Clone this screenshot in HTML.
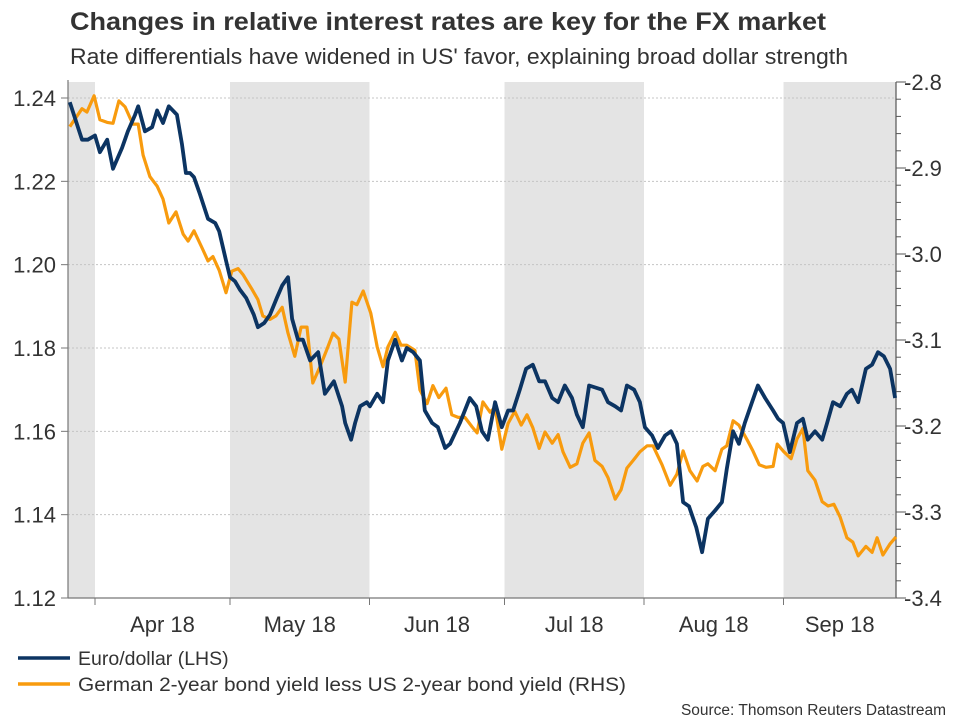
<!DOCTYPE html>
<html><head><meta charset="utf-8"><style>
body{margin:0;background:#fff;font-family:"Liberation Sans",sans-serif;}
svg text{font-family:"Liberation Sans",sans-serif;}
</style></head><body>
<svg id="chart" width="960" height="720" viewBox="0 0 960 720" xmlns="http://www.w3.org/2000/svg">
<text x="70" y="30" font-size="25" font-weight="bold" fill="#333" textLength="756" lengthAdjust="spacingAndGlyphs">Changes in relative interest rates are key for the FX market</text>
<text x="70" y="64" font-size="22" fill="#333" textLength="778" lengthAdjust="spacingAndGlyphs">Rate differentials have widened in US' favor, explaining broad dollar strength</text>
<g id="bands"></g><g id="grid"></g><g id="axes"></g><g id="series"></g>
<g>
<line x1="18" y1="658" x2="70" y2="658" stroke="#0c3462" stroke-width="3.5"/>
<text x="78" y="665" font-size="19.5" fill="#333">Euro/dollar (LHS)</text>
<line x1="18" y1="684" x2="70" y2="684" stroke="#f89b0e" stroke-width="3.5"/>
<text x="78" y="691" font-size="19.5" fill="#333" textLength="548" lengthAdjust="spacingAndGlyphs">German 2-year bond yield less US 2-year bond yield (RHS)</text>
</g>
<text x="946" y="715" font-size="15.5" fill="#333" text-anchor="end">Source: Thomson Reuters Datastream</text>
</svg>
<script>
const monthLabels=["Apr 18","May 18","Jun 18","Jul 18","Aug 18","Sep 18"];
const monthStarts=[6,36,67,97,128,159];
const monthEnds=[36,67,97,128,159,184];
const leftTicks=[1.12,1.14,1.16,1.18,1.20,1.22,1.24];
const rightTicks=[-2.8,-2.9,-3.0,-3.1,-3.2,-3.3,-3.4];
const eurDays=[0.4,3.1,4.4,6,7.1,8.7,10,12,13.3,14.9,15.6,17.1,18.7,19.8,21.1,22.4,24.2,25.3,26.2,27.1,28,29.3,31.1,32.7,33.6,35.1,36,37.1,38.2,39.6,41.3,42.2,43.6,44.9,46.4,47.6,48.9,49.8,51.1,52.2,53.8,55.6,57.1,59.1,60.9,61.6,62.9,63.8,64.9,66.4,67.1,68.7,70,71.1,72.7,74.2,75.3,76.7,78.2,79.3,80.9,82.2,83.8,84.9,87.1,89.3,90.7,92,93.3,94.9,96.4,97.8,98.9,100.4,101.8,103.3,104.7,106,107.6,108.9,110.4,112,113.1,114.4,115.8,118.7,120,121.6,122.9,124.2,125.8,127.1,128.2,129.8,131.1,132.7,134,135.3,136.7,138,139.6,140.9,142.2,143.8,145.3,146.4,147.8,149.1,150.4,152,153.3,154.9,156.7,157.8,158.9,160.4,162,163.3,164.4,166,167.6,168.7,170,171.6,173.1,174.2,175.6,177.3,178.7,180,181.3,182.7,183.8];
const eurValues=[1.239,1.230,1.230,1.231,1.227,1.230,1.223,1.228,1.232,1.236,1.238,1.232,1.233,1.237,1.234,1.238,1.236,1.229,1.222,1.222,1.221,1.217,1.211,1.210,1.208,1.201,1.197,1.196,1.194,1.192,1.188,1.185,1.186,1.188,1.192,1.195,1.197,1.187,1.182,1.182,1.177,1.179,1.169,1.172,1.166,1.162,1.158,1.162,1.166,1.167,1.166,1.169,1.167,1.177,1.182,1.177,1.180,1.179,1.177,1.165,1.162,1.161,1.156,1.157,1.162,1.168,1.166,1.160,1.158,1.167,1.161,1.165,1.165,1.170,1.175,1.176,1.172,1.172,1.168,1.167,1.171,1.168,1.164,1.161,1.171,1.170,1.167,1.166,1.165,1.171,1.170,1.167,1.161,1.159,1.156,1.159,1.160,1.157,1.143,1.142,1.137,1.131,1.139,1.141,1.143,1.151,1.160,1.157,1.162,1.167,1.171,1.168,1.165,1.163,1.162,1.155,1.162,1.163,1.158,1.160,1.158,1.162,1.167,1.166,1.169,1.170,1.167,1.175,1.176,1.179,1.178,1.175,1.168];
const sprDays=[0.4,3.1,4.2,5.8,7.1,8.7,10,11.3,12.7,14.4,15.6,16.7,18.2,19.8,21.1,22.4,24,25.6,26.7,28,29.8,31.1,32.2,33.6,35.1,36.4,37.8,38.9,40.9,42.2,43.3,44.9,46.2,47.6,48.9,50.4,51.8,53.1,54.4,56,57.6,58.9,60.2,61.6,63.1,64.2,65.6,67.3,68.7,70,71.1,72.7,74,75.3,77.1,78.2,79.8,81.1,82.4,84,85.3,86.7,88.2,89.8,90.9,92.2,93.8,94.9,96.4,97.8,99.3,100.7,102,103.3,104.7,106,107.6,108.9,110,111.6,113.1,114.4,115.8,117.1,118.7,120,121.6,122.9,124.2,125.6,127.1,128.7,130,132,133.8,135.3,136.7,138.2,139.8,141.1,142.2,143.8,145.3,146.4,147.8,149.1,150.9,152.2,153.6,155.1,156.7,157.6,159.1,160.7,162,163.3,164.4,166,167.6,168.9,170.2,171.6,173.1,174.4,175.6,177.3,178.7,179.8,181.1,182.7,184];
const sprValues=[-2.852,-2.831,-2.835,-2.816,-2.844,-2.847,-2.848,-2.822,-2.829,-2.849,-2.849,-2.885,-2.910,-2.921,-2.936,-2.964,-2.951,-2.977,-2.985,-2.973,-2.993,-3.008,-3.003,-3.019,-3.045,-3.020,-3.017,-3.024,-3.041,-3.053,-3.072,-3.076,-3.072,-3.062,-3.092,-3.119,-3.085,-3.085,-3.150,-3.131,-3.110,-3.092,-3.099,-3.149,-3.056,-3.059,-3.043,-3.069,-3.108,-3.131,-3.108,-3.091,-3.106,-3.106,-3.112,-3.158,-3.174,-3.153,-3.167,-3.156,-3.187,-3.190,-3.190,-3.201,-3.208,-3.172,-3.184,-3.178,-3.227,-3.197,-3.183,-3.199,-3.187,-3.202,-3.226,-3.207,-3.220,-3.210,-3.230,-3.248,-3.244,-3.220,-3.208,-3.240,-3.247,-3.260,-3.285,-3.274,-3.249,-3.240,-3.230,-3.223,-3.223,-3.245,-3.269,-3.256,-3.229,-3.252,-3.264,-3.247,-3.244,-3.252,-3.227,-3.223,-3.194,-3.199,-3.216,-3.229,-3.245,-3.248,-3.247,-3.221,-3.230,-3.238,-3.215,-3.203,-3.252,-3.263,-3.288,-3.293,-3.291,-3.306,-3.330,-3.335,-3.351,-3.340,-3.347,-3.330,-3.350,-3.337,-3.329];

const NS="http://www.w3.org/2000/svg";
const X0=68,X1=896,YT=82,YB=598;
const xS=d=>X0+(d-0)*(X1-X0)/184;
const yL=v=>598-(v-1.12)*(500/0.12);
const yR=v=>82+(-2.8-v)*(516/0.6);
function mk(tag,attrs,parent){const e=document.createElementNS(NS,tag);for(const k in attrs)e.setAttribute(k,attrs[k]);document.getElementById(parent).appendChild(e);return e;}

const shadeIdx=[1,3,5];
let b0=mk('rect',{x:X0,y:YT,width:xS(monthStarts[0])-X0,height:YB-YT,fill:'#e4e4e4'},'bands');


shadeIdx.forEach(i=>{
  const r=mk('rect',{x:xS(monthStarts[i]),y:YT,width:xS(monthEnds[i])-xS(monthStarts[i]),height:YB-YT,fill:'#e4e4e4'},'bands');
  
  
});
leftTicks.forEach(v=>{
  const y=yL(v);
  if(v>1.121){const g=mk('line',{x1:X0,y1:y,x2:X1,y2:y,stroke:'#c4c4c4','stroke-dasharray':'2,2','stroke-width':1},'grid');
  
  }
  mk('line',{x1:61,y1:y,x2:X0,y2:y,stroke:'#777','stroke-width':1},'axes');
  const t=mk('text',{x:56,y:y+8,'font-size':22,fill:'#333','text-anchor':'end'},'axes');
  t.textContent=v.toFixed(2);
  
  
});
rightTicks.forEach(v=>{
  const y=yR(v);
  mk('line',{x1:X1,y1:y,x2:X1+10,y2:y,stroke:'#555','stroke-width':1},'axes');
  const t=mk('text',{x:904,y:y+8,'font-size':22,fill:'#333'},'axes');
  t.textContent=v.toFixed(1);
  
  
});
for(let k=0;k<30;k++){const v=-2.8-k*0.02;mk('line',{x1:X1,y1:yR(v),x2:X1+5,y2:yR(v),stroke:'#555','stroke-width':1},'axes');}
let al=mk('line',{x1:X0,y1:YT-2,x2:X0,y2:YB,stroke:'#777','stroke-width':1.2},'axes');


let ar=mk('line',{x1:X1,y1:YT,x2:X1,y2:YB,stroke:'#555','stroke-width':1.2},'axes');


let ab=mk('line',{x1:X0,y1:YB,x2:X1,y2:YB,stroke:'#777','stroke-width':1.2},'axes');


monthLabels.forEach((m,i)=>{
  const xs=xS(monthStarts[i]);
  mk('line',{x1:xs,y1:YB,x2:xs,y2:YB+7,stroke:'#777','stroke-width':1},'axes');
  const t=mk('text',{x:(xs+xS(monthEnds[i]))/2,y:632,'font-size':22,fill:'#333','text-anchor':'middle'},'axes');
  t.textContent=m;
  
  
});
const po=mk('polyline',{points:sprDays.map((d,i)=>xS(d).toFixed(1)+','+yR(sprValues[i]).toFixed(1)).join(' '),fill:'none',stroke:'#f89b0e','stroke-width':3.2,'stroke-linejoin':'round'},'series');


const pb=mk('polyline',{points:eurDays.map((d,i)=>xS(d).toFixed(1)+','+yL(eurValues[i]).toFixed(1)).join(' '),fill:'none',stroke:'#0c3462','stroke-width':3.8,'stroke-linejoin':'round'},'series');


</script>
</body></html>
